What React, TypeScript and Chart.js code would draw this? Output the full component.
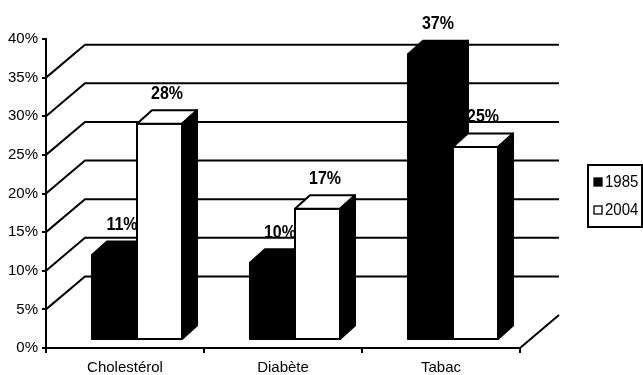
import React, { useEffect, useRef } from 'react';
import { Chart, registerables } from 'chart.js';

Chart.register(...registerables);

// Risk factors and the share of each, for the two survey years
const categories = ['Cholestérol', 'Diabète', 'Tabac'];
const seriesLabels = ['1985', '2004'];
const values1985 = [11, 10, 37];
const values2004 = [28, 17, 25];
const seriesFill = ['#000000', '#ffffff'];
const yMin = 0;
const yMax = 40;
const yStep = 5;

const FONT = '"Liberation Sans", Arial, Helvetica, sans-serif';

// Oblique projection used for the pseudo-3D look
const WALL_DX = 39; // back wall offset from the front axis
const WALL_DY = -33;
const BAR_SHIFT_X = 12; // bars stand slightly behind the front edge of the floor
const BAR_SHIFT_Y = -8;
const BAR_DEPTH_X = 15; // depth of each column
const BAR_DEPTH_Y = -13.5;
const LINE = 2;

// text drawn by the plugin is a little taller than wide
const TEXT_STRETCH_Y = 1.12;

function stretchedText(ctx: CanvasRenderingContext2D, text: string, x: number, y: number) {
  ctx.save();
  ctx.translate(x, y);
  ctx.scale(1, TEXT_STRETCH_Y);
  ctx.fillText(text, 0, 0);
  ctx.restore();
}

const threeD = {
  id: 'threeD',
  beforeDatasetsDraw(chart: any) {
    const { ctx, chartArea, scales } = chart;
    const { left, right, bottom } = chartArea;
    const y = scales.y;
    ctx.save();
    ctx.strokeStyle = '#000';
    ctx.lineWidth = LINE;
    ctx.beginPath();
    y.ticks.forEach((t: any) => {
      if (t.value <= yMin || t.value >= yMax) return;
      const py = y.getPixelForValue(t.value);
      ctx.moveTo(left, py);
      ctx.lineTo(left + WALL_DX, py + WALL_DY);
      ctx.lineTo(right + WALL_DX, py + WALL_DY);
    });
    // right edge of the floor
    ctx.moveTo(right, bottom);
    ctx.lineTo(right + WALL_DX, bottom + WALL_DY);
    ctx.stroke();
    ctx.restore();
  },
  afterDatasetsDraw(chart: any) {
    const { ctx } = chart;
    const metas = chart.data.datasets.map((_: any, i: number) => chart.getDatasetMeta(i));
    ctx.save();
    ctx.lineWidth = LINE;
    ctx.lineJoin = 'round';
    ctx.strokeStyle = '#000';
    for (let c = 0; c < categories.length; c++) {
      metas.forEach((meta: any, di: number) => {
        const el = meta.data[c];
        if (!el) return;
        const { x, y, base, width } = el.getProps(['x', 'y', 'base', 'width'], true);
        const x0 = x - width / 2 + BAR_SHIFT_X;
        const x1 = x + width / 2 + BAR_SHIFT_X;
        const yt = y + BAR_SHIFT_Y;
        const yb = base + BAR_SHIFT_Y;
        const fill = seriesFill[di];

        // front face
        ctx.beginPath();
        ctx.rect(x0, yt, x1 - x0, yb - yt);
        ctx.fillStyle = fill;
        ctx.fill();
        ctx.stroke();

        // top face
        ctx.beginPath();
        ctx.moveTo(x0, yt);
        ctx.lineTo(x0 + BAR_DEPTH_X, yt + BAR_DEPTH_Y);
        ctx.lineTo(x1 + BAR_DEPTH_X, yt + BAR_DEPTH_Y);
        ctx.lineTo(x1, yt);
        ctx.closePath();
        ctx.fillStyle = fill;
        ctx.fill();
        ctx.stroke();

        // side face (always in shadow)
        ctx.beginPath();
        ctx.moveTo(x1, yt);
        ctx.lineTo(x1 + BAR_DEPTH_X, yt + BAR_DEPTH_Y);
        ctx.lineTo(x1 + BAR_DEPTH_X, yb + BAR_DEPTH_Y);
        ctx.lineTo(x1, yb);
        ctx.closePath();
        ctx.fillStyle = '#000';
        ctx.fill();
        ctx.stroke();
      });
    }

    // value labels above each column
    ctx.fillStyle = '#000';
    ctx.font = `bold 16px ${FONT}`;
    ctx.textAlign = 'center';
    ctx.textBaseline = 'middle';
    metas.forEach((meta: any, di: number) => {
      meta.data.forEach((el: any, c: number) => {
        const { x, y } = el.getProps(['x', 'y'], true);
        const v = chart.data.datasets[di].data[c];
        stretchedText(ctx, `${v}%`, x + BAR_SHIFT_X + BAR_DEPTH_X / 2, y + BAR_SHIFT_Y - 30);
      });
    });
    ctx.restore();
  },
  afterDraw(chart: any) {
    // boxed legend on the right
    const { ctx } = chart;
    const bx = 588;
    const by = 165;
    const bw = 54;
    const bh = 62;
    ctx.save();
    ctx.lineWidth = LINE;
    ctx.strokeStyle = '#000';
    ctx.strokeRect(bx, by, bw, bh);
    ctx.font = `15px ${FONT}`;
    ctx.textAlign = 'left';
    ctx.textBaseline = 'middle';
    chart.data.datasets.forEach((ds: any, i: number) => {
      const cy = by + 17 + i * 28;
      ctx.fillStyle = seriesFill[i];
      ctx.fillRect(594, cy - 4, 8, 8);
      ctx.lineWidth = 1.3;
      ctx.strokeRect(594, cy - 4, 8, 8);
      ctx.fillStyle = '#000';
      stretchedText(ctx, ds.label, 605, cy);
    });
    ctx.restore();
  },
};

export default function App() {
  const canvasRef = useRef<HTMLCanvasElement | null>(null);

  useEffect(() => {
    const canvas = canvasRef.current;
    if (!canvas) return;
    const chart = new Chart(canvas, {
      type: 'bar',
      data: {
        labels: categories,
        datasets: [
          {
            label: seriesLabels[0],
            data: values1985,
            backgroundColor: 'rgba(0,0,0,0)',
            borderWidth: 0,
          },
          {
            label: seriesLabels[1],
            data: values2004,
            backgroundColor: 'rgba(0,0,0,0)',
            borderWidth: 0,
          },
        ],
      },
      options: {
        responsive: false,
        animation: false,
        devicePixelRatio: 1,
        layout: { padding: { left: 0, top: 39, right: 123, bottom: 0 } },
        plugins: {
          legend: { display: false },
          tooltip: { enabled: false },
        },
        datasets: {
          bar: { categoryPercentage: 0.57, barPercentage: 1 },
        },
        scales: {
          x: {
            offset: true,
            grid: {
              offset: true,
              drawOnChartArea: false,
              drawTicks: true,
              tickLength: 5,
              color: '#000',
              lineWidth: LINE,
            },
            border: { display: true, color: '#000', width: LINE },
            ticks: { color: '#000', font: { family: FONT, size: 15 }, padding: 6 },
            afterFit(scale: any) {
              scale.height = 27;
            },
          },
          y: {
            min: yMin,
            max: yMax,
            grid: {
              drawOnChartArea: false,
              drawTicks: true,
              tickLength: 4,
              color: '#000',
              lineWidth: LINE,
            },
            border: { display: true, color: '#000', width: LINE },
            ticks: {
              stepSize: yStep,
              color: '#000',
              font: { family: FONT, size: 15 },
              padding: 4,
              callback: (v: any) => `${v}%`,
            },
            afterFit(scale: any) {
              scale.width = 46;
            },
          },
        },
      },
      plugins: [threeD],
    });
    return () => chart.destroy();
  }, []);

  return (
    <div style={{ position: 'fixed', left: 0, top: 0, width: 643, height: 375, background: '#fff' }}>
      <canvas ref={canvasRef} width={643} height={375} style={{ display: 'block' }} />
    </div>
  );
}
